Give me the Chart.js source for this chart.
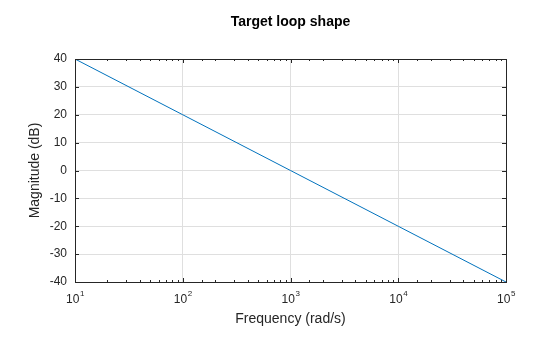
<!DOCTYPE html>
<html>
<head>
<meta charset="utf-8">
<script src="https://cdn.jsdelivr.net/npm/chart.js@4.4.0/dist/chart.umd.min.js"></script>
<style>
  html, body { margin: 0; padding: 0; background: #fff; }
</style>
</head>
<body>
<canvas id="loopChart" width="560" height="337"></canvas>
<script>
// Data
const frequency = [10, 100, 1000, 10000, 100000];
const magnitude = [40, 20, 0, -20, -40];
const yTickValues = [-40, -30, -20, -10, 0, 10, 20, 30, 40];
const titleText = 'Target loop shape';
const xLabel = 'Frequency (rad/s)';
const yLabel = 'Magnitude (dB)';

const axisColor = '#262626';
const gridColor = '#dfdfdf';
const fontFamily = '"Liberation Sans", Arial, Helvetica, sans-serif';

const isDecade = v => Math.abs(Math.log10(v) - Math.round(Math.log10(v))) < 1e-9;

// Box, inward ticks, superscript x labels and the title
const matlabAxes = {
    id: 'matlabAxes',
    afterDraw(chart) {
        const { ctx, chartArea: a, scales: { x, y } } = chart;
        ctx.save();
        ctx.strokeStyle = axisColor;
        ctx.lineWidth = 1;

        // top and right box lines
        ctx.beginPath();
        ctx.moveTo(a.left, a.top + 0.5);
        ctx.lineTo(a.right + 0.5, a.top + 0.5);
        ctx.lineTo(a.right + 0.5, a.bottom);
        ctx.stroke();

        // x ticks, bottom and top
        ctx.beginPath();
        x.ticks.forEach(t => {
            const px = Math.round(x.getPixelForValue(t.value)) + 0.5;
            const len = isDecade(t.value) ? 4 : 2;
            ctx.moveTo(px, a.bottom);
            ctx.lineTo(px, a.bottom - len);
            ctx.moveTo(px, a.top);
            ctx.lineTo(px, a.top + len);
        });
        // y ticks, left and right
        yTickValues.forEach(v => {
            const py = Math.round(y.getPixelForValue(v)) + 0.5;
            ctx.moveTo(a.left, py);
            ctx.lineTo(a.left + 4, py);
            ctx.moveTo(a.right, py);
            ctx.lineTo(a.right - 4, py);
        });
        ctx.stroke();

        // x tick labels as 10^n
        ctx.fillStyle = axisColor;
        ctx.textBaseline = 'alphabetic';
        x.ticks.filter(t => isDecade(t.value)).forEach(t => {
            const px = x.getPixelForValue(t.value);
            const exp = String(Math.round(Math.log10(t.value)));
            ctx.font = '12px ' + fontFamily;
            const wBase = ctx.measureText('10').width;
            ctx.font = '8px ' + fontFamily;
            const wExp = ctx.measureText(exp).width;
            const start = px - (wBase + wExp) / 2;
            ctx.font = '12px ' + fontFamily;
            ctx.textAlign = 'left';
            ctx.fillText('10', start, a.bottom + 21);
            ctx.font = '8px ' + fontFamily;
            ctx.fillText(exp, start + wBase + 0.5, a.bottom + 14);
        });

        // title
        ctx.font = 'bold 14px ' + fontFamily;
        ctx.textAlign = 'center';
        ctx.fillStyle = '#000';
        ctx.fillText(titleText, (a.left + a.right) / 2, 26);
        ctx.restore();
    }
};

new Chart(document.getElementById('loopChart'), {
    type: 'line',
    data: {
        datasets: [{
            data: frequency.map((f, i) => ({ x: f, y: magnitude[i] })),
            borderColor: '#0072BD',
            borderWidth: 1,
            pointRadius: 0,
            tension: 0,
            fill: false
        }]
    },
    options: {
        responsive: false,
        animation: false,
        layout: { padding: { top: 59, right: 54, left: 0, bottom: 0 } },
        plugins: {
            legend: { display: false },
            title: { display: false },
            tooltip: { enabled: false }
        },
        scales: {
            x: {
                type: 'logarithmic',
                min: 10,
                max: 100000,
                afterFit: scale => { scale.height = 55; },
                border: { display: true, color: axisColor, width: 1 },
                grid: {
                    drawTicks: false,
                    color: c => (c.tick && isDecade(c.tick.value)) ? gridColor : 'rgba(0,0,0,0)'
                },
                ticks: {
                    autoSkip: false,
                    maxRotation: 0,
                    callback: () => ''
                },
                title: {
                    display: true,
                    text: xLabel,
                    color: axisColor,
                    font: { family: fontFamily, size: 14 },
                    padding: { top: 0, bottom: 9 }
                }
            },
            y: {
                min: -40,
                max: 40,
                afterFit: scale => { scale.width = 75; },
                afterBuildTicks: scale => { scale.ticks = yTickValues.map(v => ({ value: v })); },
                border: { display: true, color: axisColor, width: 1 },
                grid: { drawTicks: false, color: gridColor },
                ticks: {
                    color: axisColor,
                    padding: 8,
                    font: { family: fontFamily, size: 12 }
                },
                title: {
                    display: true,
                    text: yLabel,
                    color: axisColor,
                    font: { family: fontFamily, size: 14 },
                    padding: { top: 27, bottom: 0 }
                }
            }
        }
    },
    plugins: [matlabAxes]
});
</script>
</body>
</html>
